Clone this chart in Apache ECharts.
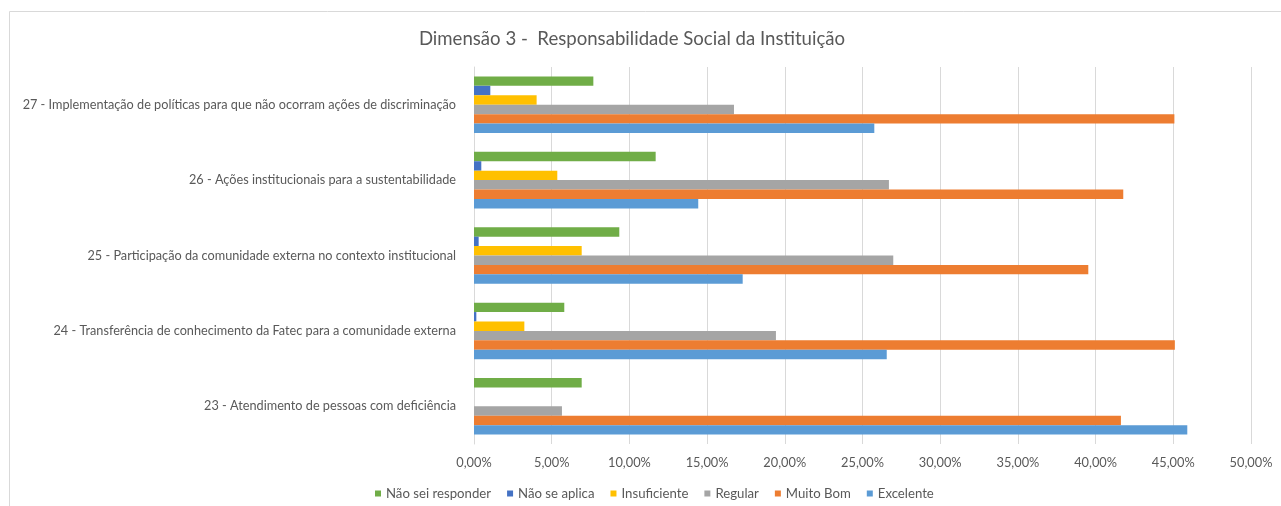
<!DOCTYPE html>
<html><head><meta charset="utf-8">
<script src="https://cdn.jsdelivr.net/npm/echarts@6/dist/echarts.min.js"></script>
<style>html,body{margin:0;padding:0;background:#fff}#c{width:1281px;height:506px}</style>
</head><body><div id="c"></div>
<script>
var categories = [
  '23 - Atendimento de pessoas com deficiência',
  '24 - Transferência de conhecimento da Fatec para a comunidade externa',
  '25 - Participação da comunidade externa no contexto institucional',
  '26 - Ações institucionais para a sustentabilidade',
  '27 - Implementação de políticas para que não ocorram ações de discriminação'
];
var seriesNames = ['Não sei responder','Não se aplica','Insuficiente','Regular','Muito Bom','Excelente'];
var naoSeiResponder = [6.93, 5.81, 9.35, 11.69, 7.68];
var naoSeAplica     = [0, 0.15, 0.30, 0.47, 1.05];
var insuficiente    = [0, 3.24, 6.93, 5.36, 4.03];
var regular         = [5.66, 19.43, 26.98, 26.70, 16.73];
var muitoBom        = [41.63, 45.10, 39.53, 41.78, 45.07];
var excelente       = [45.90, 26.56, 17.29, 14.43, 25.76];
var colors = ['#70AD47','#4472C4','#FFC000','#A5A5A5','#ED7D31','#5B9BD5'];
var allData = [naoSeiResponder, naoSeAplica, insuficiente, regular, muitoBom, excelente];

var font = 'Lato, "Open Sans", sans-serif';
var chart = echarts.init(document.getElementById('c'), null, {renderer:'canvas'});
chart.setOption({
  animation:false,
  color: colors,
  title:{ text:'Dimensão 3 -  Responsabilidade Social da Instituição', left:627, top:24, textAlign:'center',
    textStyle:{ fontFamily:font, fontSize:18.6, fontWeight:'normal', color:'#595959'} },
  graphic:[
    {type:'line', shape:{x1:9.5,y1:11.5,x2:1281,y2:11.5}, style:{stroke:'#d9d9d9',lineWidth:1}},
    {type:'line', shape:{x1:9.5,y1:11.5,x2:9.5,y2:506}, style:{stroke:'#d9d9d9',lineWidth:1}}
  ],
  legend:{ data: seriesNames, bottom:1, left:370, itemWidth:6, itemHeight:6, itemGap:16, icon:'rect',
    textStyle:{fontFamily:font, fontSize:13.2, color:'#595959'} },
  grid:{ left:474, right:30, top:67, bottom:62 },
  xAxis:{ type:'value', min:0, max:50, interval:5,
    axisLabel:{ fontFamily:font, fontSize:12.8, color:'#595959', margin:12,
      formatter:function(v){ return v.toFixed(2).replace('.',',')+'%'; } },
    splitLine:{ lineStyle:{ color:'#d9d9d9' } }, axisLine:{show:false}, axisTick:{show:false} },
  yAxis:{ type:'category', data: categories,
    axisLabel:{ fontFamily:font, fontSize:12.7, color:'#595959', margin:18 },
    axisLine:{ lineStyle:{ color:'#d9d9d9' } }, axisTick:{show:false} },
  series: seriesNames.map(function(n,i){
    return { name:n, type:'bar', data: allData[i], barGap:'0%', barCategoryGap:'25%' };
  })
});
</script></body></html>
